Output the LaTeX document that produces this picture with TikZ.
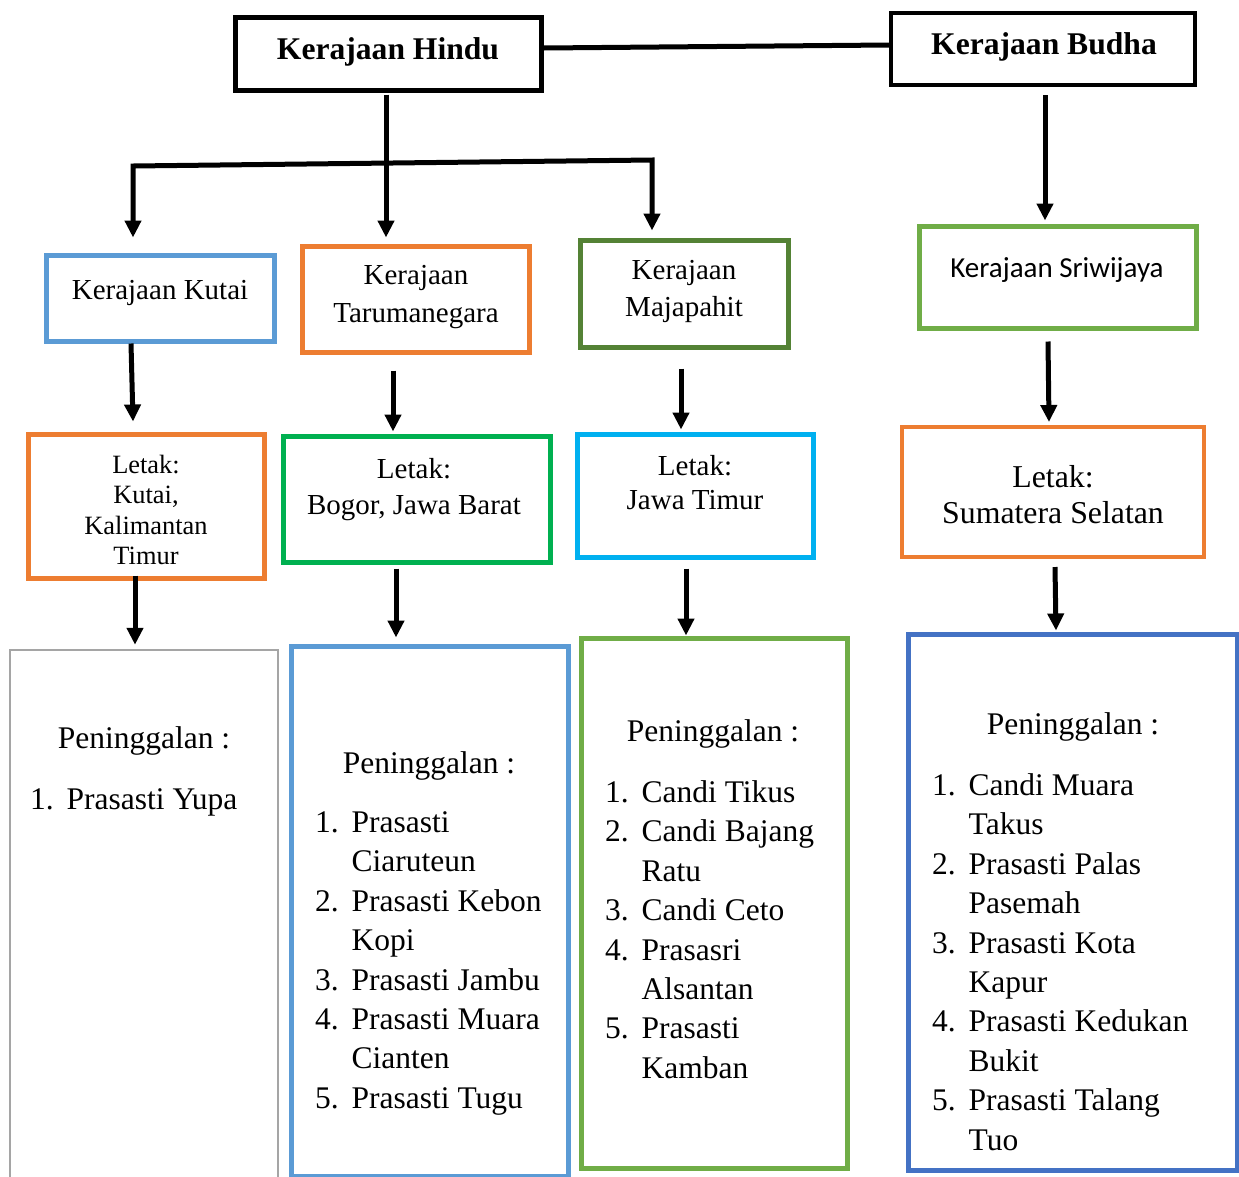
\documentclass[tikz,border=0pt]{standalone}
\usepackage{fontspec}
\setmainfont{Liberation Serif}
\newfontfamily\calibri{Carlito}
\usetikzlibrary{arrows.meta,calc}

\definecolor{cblue}{HTML}{5B9BD5}
\definecolor{corange}{HTML}{ED7D31}
\definecolor{cdkgreen}{HTML}{548235}
\definecolor{cgreen}{HTML}{70AD47}
\definecolor{cbright}{HTML}{00B050}
\definecolor{ccyan}{HTML}{00B0F0}
\definecolor{cgrey}{HTML}{A5A5A5}
\definecolor{cnavy}{HTML}{4472C4}

\tikzset{
  box/.style args={#1/#2/#3}{draw=#1, line width=5pt, rectangle, inner sep=0pt,
    minimum width=#2, minimum height=#3},
  lbl/.style={inner sep=0pt, align=center},
  listtxt/.style={inner sep=0pt, align=left, anchor=north west,
    font=\fontsize{31.5}{39.4}\selectfont},
  head/.style={inner sep=0pt, anchor=base, font=\fontsize{31.5}{39.4}\selectfont},
  conn/.style={line width=5pt, draw=black},
  arr/.style={conn, -{Triangle[length=17pt,width=16pt]}},
}
\newcommand{\itm}[2]{\makebox[36.5pt][l]{#1}#2}
\newcommand{\cnt}[1]{\hspace*{36.5pt}#1}

\begin{document}
\begin{tikzpicture}[x=1pt,y=-1pt]
\useasboundingbox (0,0) rectangle (1239,1176);
\clip (0,0) rectangle (1239,1176);
\fill[white] (0,0) rectangle (1239,1176);

% top level
\node[box=black/306pt/73pt] (hindu) at (388,53.5) {};
\node[lbl, font=\bfseries\fontsize{31.6}{38}\selectfont, anchor=base] (thindu) at (388,59) {Kerajaan Hindu};
\node[box=black/304pt/72pt, line width=4pt] (budha) at (1043,49) {};
\node[lbl, font=\bfseries\fontsize{31.6}{38}\selectfont, anchor=base] (tbudha) at (1044,54) {Kerajaan Budha};

% kingdoms
\node[box=cblue/228pt/86pt] (kutai) at (160,298) {};
\node[lbl, font=\fontsize{29}{38}\selectfont, anchor=base] (tkutai) at (160,299) {Kerajaan Kutai};
\node[box=corange/227pt/106pt] (taruma) at (415.5,299) {};
\node[lbl, font=\fontsize{29}{38}\selectfont] (ttaruma) at (416,297) {Kerajaan\\Tarumanegara};
\node[box=cdkgreen/208pt/107pt] (majapahit) at (684,293.5) {};
\node[lbl, font=\fontsize{29}{37}\selectfont] (tmajapahit) at (684,291) {Kerajaan\\Majapahit};
\node[box=cgreen/277pt/102pt] (sriwijaya) at (1057.5,277) {};
\node[lbl, font=\calibri\fontsize{29}{36}\selectfont, anchor=base] (tsriwijaya) at (1057,277) {Kerajaan Sriwijaya};

% locations
\node[box=corange/236pt/144pt] (lkutai) at (146,506) {};
\node[lbl, font=\fontsize{26.4}{30.3}\selectfont] (tlkutai) at (146,510) {Letak:\\Kutai,\\Kalimantan\\Timur};
\node[box=cbright/267pt/126pt] (lbogor) at (416.5,499) {};
\node[lbl, font=\fontsize{29}{36}\selectfont] (tlbogor) at (414,490) {Letak:\\Bogor, Jawa Barat};
\node[box=ccyan/236pt/123pt] (ljawa) at (695,495.5) {};
\node[lbl, font=\fontsize{29}{34}\selectfont] (tljawa) at (695,483) {Letak:\\Jawa Timur};
\node[box=corange/302pt/130pt, line width=4pt] (lsum) at (1053,492) {};
\node[lbl, font=\fontsize{31.8}{36}\selectfont] (tlsum) at (1053,495) {Letak:\\Sumatera Selatan};

% relics
\node[box=cgrey/268pt/560pt, line width=2.5pt] (pa) at (144,930) {};
\node[box=cblue/277pt/530pt] (pb) at (429.5,911) {};
\node[box=cgreen/266pt/530pt] (pc) at (714,903) {};
\node[box=cnavy/329pt/536pt] (pd) at (1072.5,902) {};

\node[head] (hpa) at (144,748) {Peninggalan :};
\node[head] (hpb) at (429,773) {Peninggalan :};
\node[head] (hpc) at (713,741) {Peninggalan :};
\node[head] (hpd) at (1073,734) {Peninggalan :};

\node[listtxt] (lpa) at (30,788.5) {\itm{1.}{Prasasti Yupa}};
\node[listtxt] (lpb) at (315,811.5) {\itm{1.}{Prasasti}\\\cnt{Ciaruteun}\\\itm{2.}{Prasasti Kebon}\\\cnt{Kopi}\\\itm{3.}{Prasasti Jambu}\\\itm{4.}{Prasasti Muara}\\\cnt{Cianten}\\\itm{5.}{Prasasti Tugu}};
\node[listtxt] (lpc) at (605,780.5) {\itm{1.}{Candi Tikus}\\\itm{2.}{Candi Bajang}\\\cnt{Ratu}\\\itm{3.}{Candi Ceto}\\\itm{4.}{Prasasri}\\\cnt{Alsantan}\\\itm{5.}{Prasasti}\\\cnt{Kamban}};
\node[listtxt] (lpd) at (932,773.5) {\itm{1.}{Candi Muara}\\\cnt{Takus}\\\itm{2.}{Prasasti Palas}\\\cnt{Pasemah}\\\itm{3.}{Prasasti Kota}\\\cnt{Kapur}\\\itm{4.}{Prasasti Kedukan}\\\cnt{Bukit}\\\itm{5.}{Prasasti Talang}\\\cnt{Tuo}};

% connectors
\draw[conn] ([yshift=5.5pt]hindu.east) -- ([yshift=4pt]budha.west);
\draw[arr] ($(hindu.south)+(-2,2)$) -- ($(taruma.north)+(-29.5,-6)$);
\coordinate (barL) at (133,166);
\coordinate (barR) at (652,160);
\draw[conn, {Triangle[length=17pt,width=16pt]}-{Triangle[length=17pt,width=16pt]}]
  ($(kutai.north)+(-27,-15)$) -- (barL) -- (barR) -- ($(majapahit.north)+(-32,-7)$);
\draw[arr] ($(budha.south)+(2,8)$) -- ($(sriwijaya.north)+(-12.5,-3)$);

\draw[arr] ($(kutai.south)+(-29,0)$) -- ($(lkutai.north)+(-13,-10)$);
\draw[arr] ($(taruma.south)+(-22.5,16)$) -- ($(lbogor.north)+(-23.5,-2)$);
\draw[arr] ($(majapahit.south)+(-3,19)$) -- ($(ljawa.north)+(-14,-2)$);
\draw[arr] ($(sriwijaya.south)+(-9.5,11)$) -- ($(lsum.north)+(-4,-3)$);

\draw[arr] ($(lkutai.south)+(-11,-5)$) -- ($(pa.north)+(-9,-4)$);
\draw[arr] ($(lbogor.south)+(-20.5,4)$) -- ($(pb.north)+(-33.5,-6)$);
\draw[arr] ($(ljawa.south)+(-9,9)$) -- ($(pc.north)+(-28,0)$);
\draw[arr] ($(lsum.south)+(2,8)$) -- ($(pd.north)+(-16.5,-1)$);
\end{tikzpicture}
\end{document}
